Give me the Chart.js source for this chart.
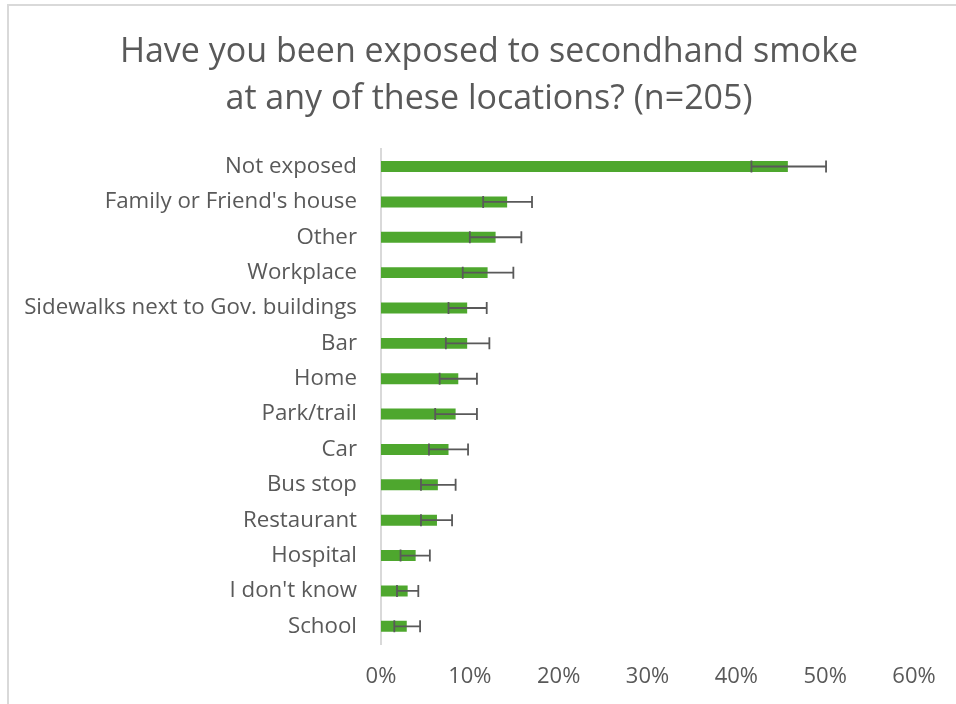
<!DOCTYPE html>
<html>
<head>
<meta charset="utf-8">
<script src="https://cdn.jsdelivr.net/npm/chart.js@4.4.1/dist/chart.umd.min.js"></script>
<style>
  html, body { margin: 0; padding: 0; background: #fff; }
  #wrap { width: 956px; height: 704px; position: relative; }
</style>
</head>
<body>
<div id="wrap"><canvas id="smokeChart" width="956" height="704"></canvas></div>
<script>
const locations = ['Not exposed', "Family or Friend's house", 'Other', 'Workplace',
  'Sidewalks next to Gov. buildings', 'Bar', 'Home', 'Park/trail', 'Car', 'Bus stop',
  'Restaurant', 'Hospital', "I don't know", 'School'];
const pct = [45.8, 14.2, 12.9, 12.0, 9.7, 9.7, 8.7, 8.4, 7.6, 6.4, 6.3, 3.9, 3.0, 2.9];
const errLow = [41.7, 11.5, 10.0, 9.2, 7.6, 7.3, 6.6, 6.1, 5.4, 4.5, 4.5, 2.2, 1.8, 1.5];
const errHigh = [50.1, 17.0, 15.8, 14.9, 11.9, 12.2, 10.8, 10.8, 9.8, 8.4, 8.0, 5.5, 4.2, 4.4];
const xTicks = [0, 10, 20, 30, 40, 50, 60];

const textColor = '#595959';
const fontFam = 'Open Sans, Liberation Sans, sans-serif';

// light frame around the chart, like the exported picture
const framePlugin = {
  id: 'frame',
  afterLayout(chart) {
    // the title sits centred on the whole frame, not on the padded box
    if (chart.titleBlock) {
      chart.titleBlock.left += 32;
      chart.titleBlock.right += 32;
    }
  },
  beforeDraw(chart) {
    const c = chart.ctx;
    c.save();
    c.strokeStyle = '#d9d9d9';
    c.lineWidth = 2;
    c.beginPath();
    c.moveTo(8, chart.height);
    c.lineTo(8, 5);
    c.lineTo(chart.width, 5);
    c.stroke();
    c.restore();
  }
};

// error bars drawn from errLow/errHigh through the x scale
const errorBars = {
  id: 'errorBars',
  afterDatasetsDraw(chart) {
    const c = chart.ctx;
    const xs = chart.scales.x;
    const meta = chart.getDatasetMeta(0);
    c.save();
    c.strokeStyle = '#595959';
    c.lineWidth = 1.8;
    meta.data.forEach((bar, i) => {
      const y = bar.y;
      const x1 = xs.getPixelForValue(errLow[i]);
      const x2 = xs.getPixelForValue(errHigh[i]);
      const h = 6;
      c.beginPath();
      c.moveTo(x1, y); c.lineTo(x2, y);
      c.moveTo(x1, y - h); c.lineTo(x1, y + h);
      c.moveTo(x2, y - h); c.lineTo(x2, y + h);
      c.stroke();
    });
    c.restore();
  }
};

const ctx = document.getElementById('smokeChart').getContext('2d');
const smokeChart = new Chart(ctx, {
  type: 'bar',
  data: {
    labels: locations,
    datasets: [{
      data: pct,
      backgroundColor: '#4ea72e',
      borderWidth: 0,
      barPercentage: 0.62,
      categoryPercentage: 0.5
    }]
  },
  plugins: [framePlugin, errorBars],
  options: {
    indexAxis: 'y',
    responsive: false,
    animation: false,
    layout: { padding: { left: 0, right: 42, top: 25, bottom: 0 } },
    plugins: {
      legend: { display: false },
      tooltip: { enabled: false },
      title: {
        display: true,
        text: ['Have you been exposed to secondhand smoke', 'at any of these locations? (n=205)'],
        color: textColor,
        font: { family: fontFam, size: 34, weight: 'normal', lineHeight: 1.38 },
        padding: { top: 4, bottom: 26 }
      }
    },
    scales: {
      x: {
        min: 0,
        max: 60,
        afterBuildTicks(scale) { scale.ticks = xTicks.map(v => ({ value: v })); },
        afterFit(scale) { scale.height = 60; },
        grid: { display: false, drawTicks: false },
        border: { display: false },
        ticks: {
          color: textColor,
          padding: 20,
          font: { family: fontFam, size: 22 },
          callback: v => v + '%'
        }
      },
      y: {
        afterFit(scale) { scale.width = 381; },
        grid: { display: false, drawTicks: false },
        border: { display: true, color: '#d9d9d9', width: 2 },
        ticks: {
          color: textColor,
          padding: 24,
          autoSkip: false,
          font: { family: fontFam, size: 22.3 }
        }
      }
    }
  }
});
window.smokeChart = smokeChart;
</script>
</body>
</html>
